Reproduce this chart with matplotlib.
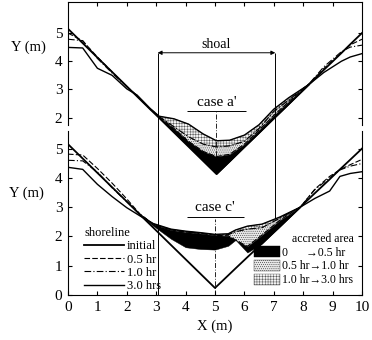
import numpy as np
import matplotlib
matplotlib.use("Agg")
import matplotlib.pyplot as plt

plt.rcParams['font.family'] = ['Liberation Serif', 'DejaVu Serif']
plt.rcParams['hatch.linewidth'] = 0.35

# case a' (upper panel) shorelines
xa = np.array([0, 0.5, 1.0, 1.5, 2.0, 2.35, 2.8, 3.1, 3.6, 4.1, 4.6, 5.05,
               5.5, 6.0, 6.5, 7.0, 7.5, 8.2, 8.7, 9.3, 9.6, 10])
a_init = [5.15, 4.64, 4.13, 3.62, 3.11, 2.75, 2.29, 1.99, 1.48, 0.97, 0.46, 0.0,
          0.45, 0.96, 1.46, 1.97, 2.47, 3.18, 3.69, 4.29, 4.60, 5.0]
a_05 = [5.0, 4.72, 4.15, 3.62, 3.10, 2.76, 2.30, 2.02, 1.62, 1.16, 0.80, 0.62,
        0.70, 1.06, 1.56, 2.08, 2.56, 3.20, 3.74, 4.30, 4.58, 4.78]
a_10 = [4.78, 4.73, 4.10, 3.58, 3.10, 2.78, 2.31, 2.04, 1.68, 1.32, 1.06, 0.96,
        1.00, 1.16, 1.62, 2.22, 2.62, 3.20, 3.80, 4.34, 4.50, 4.57]
a_30 = [4.49, 4.47, 3.75, 3.50, 3.02, 2.80, 2.32, 2.05, 1.96, 1.77, 1.42, 1.18,
        1.20, 1.38, 1.75, 2.30, 2.70, 3.18, 3.60, 4.00, 4.15, 4.27]

# case c' (lower panel)
xc = np.array([0, 0.5, 1.0, 1.5, 2.0, 2.45, 2.9, 3.5, 4.0, 4.5, 5.0, 5.45,
               5.7, 6.1, 6.6, 7.2, 7.9, 8.4, 8.9, 9.25, 9.6, 10])
c_init = [5.15, 4.66, 4.17, 3.68, 3.19, 2.74, 2.30, 1.71, 1.22, 0.73, 0.24, 0.67,
          0.91, 1.29, 1.76, 2.33, 3.00, 3.48, 3.95, 4.29, 4.62, 5.0]
c_05 = [4.81, 4.78, 4.32, 3.82, 3.28, 2.76, 2.42, 2.22, 2.15, 2.10, 2.04, 2.02,
        1.88, 1.66, 2.05, 2.55, 3.00, 3.62, 4.05, 4.28, 4.45, 4.63]
c_10 = [4.60, 4.58, 4.20, 3.66, 3.18, 2.76, 2.42, 2.23, 2.16, 2.11, 2.05, 2.06,
        2.16, 2.25, 2.30, 2.62, 3.00, 3.60, 4.00, 4.27, 4.40, 4.49]
c_30 = [4.36, 4.29, 3.78, 3.36, 2.98, 2.70, 2.44, 2.25, 2.18, 2.13, 2.07, 2.09,
        2.22, 2.35, 2.42, 2.66, 3.00, 3.30, 3.55, 4.05, 4.15, 4.21]
# lower edge of the 0-0.5 hr deposit (bar) in case c'
c_bar = [5.15, 4.66, 4.17, 3.68, 3.19, 2.74, 2.36, 1.92, 1.63, 1.57, 1.55, 1.68,
         1.88, 1.45, 1.76, 2.33, 3.00, 3.48, 3.95, 4.29, 4.62, 5.0]

shoal_x = [3.05, 7.05]
center_x = 5.05
line_labels = ['initial', '0.5 hr', '1.0 hr', '3.0 hrs']
area_labels = ['0      \u21920.5 hr', '0.5 hr\u21921.0 hr', '1.0 hr\u21923.0 hrs']

fig = plt.figure(figsize=(3.72, 3.40), dpi=100)
ax_lo = fig.add_axes([68/372, 45/340, 294/372, 164/340])
ax_up = fig.add_axes([68/372, 157.5/340, 294/372, 180.5/340], zorder=3)
ax_up.patch.set_visible(False)

styles = [dict(lw=1.3, ls='-'), dict(lw=0.8, ls=(0, (5, 2))),
          dict(lw=0.8, ls=(0, (6, 2, 1, 2))), dict(lw=1.0, ls='-')]


def draw_case(ax, x, curves, lo, rng):
    m = (x >= rng[0]) & (x <= rng[1])
    f1 = ax.fill_between(x, lo, curves[1], where=m, facecolor='black',
                         edgecolor='black', lw=0.3, interpolate=True)
    f2 = ax.fill_between(x, curves[1], curves[2], where=m, facecolor='#e8e8e8',
                         hatch='........', edgecolor='#333333', lw=0.3, interpolate=True)
    f3 = ax.fill_between(x, curves[2], curves[3], where=m, facecolor='#f4f4f4',
                         hatch='++++++', edgecolor='#555555', lw=0.3, interpolate=True)
    lines = []
    for y, st, lab in zip(curves, styles, line_labels):
        ln, = ax.plot(x, y, color='black', label=lab, **st)
        lines.append(ln)
    return lines, [f1, f2, f3]


draw_case(ax_up, xa, [a_init, a_05, a_10, a_30], a_init, (2.8, 8.2))
lines, areas = draw_case(ax_lo, xc, [c_init, c_05, c_10, c_30], c_bar, (2.45, 7.9))

# upper axes styling
ax_up.set_xlim(0, 10)
ax_up.set_ylim(-0.3, 6.1)
ax_up.spines['bottom'].set_visible(False)
ax_up.spines['left'].set_bounds(1.75, 6.1)
ax_up.spines['right'].set_bounds(1.75, 6.1)
ax_up.set_yticks([2, 3, 4, 5])
ax_up.xaxis.tick_top()
ax_up.set_xticks(range(1, 10))
ax_up.tick_params(axis='x', direction='in', length=3, labeltop=False)
ax_up.tick_params(axis='y', direction='in', length=3, right=True, labelsize=11, pad=4)
ax_up.set_ylabel('Y (m)', rotation=0, fontsize=10.5, va='center')
ax_up.yaxis.set_label_coords(-0.135, 0.75)

# lower axes styling
ax_lo.set_xlim(0, 10)
ax_lo.set_ylim(0, 5.6)
ax_lo.spines['top'].set_visible(False)
ax_lo.set_yticks(range(0, 6))
ax_lo.set_xticks(range(0, 11))
ax_lo.tick_params(direction='in', length=3, right=True, labelsize=11, pad=4)
ax_lo.set_ylabel('Y (m)', rotation=0, fontsize=10.5, va='center')
ax_lo.yaxis.set_label_coords(-0.14, 0.62)
ax_lo.set_xlabel('X (m)', fontsize=10.5, labelpad=4)

# shoal markers
ax_up.vlines(shoal_x, -0.3, 4.3, color='black', lw=0.7)
ax_lo.vlines(shoal_x[0], 0, 5.6, color='black', lw=0.7)
ax_lo.vlines(shoal_x[1], 2.6, 5.6, color='black', lw=0.7)
ax_up.annotate('', xy=(shoal_x[0], 4.3), xytext=(shoal_x[1], 4.3),
               arrowprops=dict(arrowstyle='<|-|>', lw=0.7, color='black',
                               mutation_scale=6, shrinkA=0, shrinkB=0))
ax_up.text(center_x, 4.38, 'shoal', ha='center', va='bottom', fontsize=10)

# case titles with underline and centre line
ax_up.text(center_x, 2.32, "case a'", ha='center', va='bottom', fontsize=11)
ax_up.hlines(2.25, 4.05, 6.05, color='black', lw=0.7)
ax_up.vlines(center_x, 0, 2.2, color='black', lw=0.6, linestyles=(0, (6, 2, 1, 2)))
ax_lo.text(center_x - 0.05, 2.75, "case c'", ha='center', va='bottom', fontsize=11)
ax_lo.hlines(2.67, 4.05, 6.0, color='black', lw=0.7)
ax_lo.vlines(center_x - 0.05, 0, 2.6, color='black', lw=0.6, linestyles=(0, (6, 2, 1, 2)))

leg1 = ax_lo.legend(handles=lines, title='shoreline', loc='upper left',
                    bbox_to_anchor=(0.03, 0.46), frameon=False, fontsize=9,
                    title_fontsize=9, handlelength=3.2, handletextpad=0.2,
                    labelspacing=0.1, borderpad=0.1, alignment='left')
ax_lo.add_artist(leg1)
ax_lo.legend(handles=areas, labels=area_labels, title='accreted area',
             loc='lower right', bbox_to_anchor=(0.995, 0.01), frameon=False,
             fontsize=8.5, title_fontsize=8.5, handlelength=2.2, handleheight=1.1,
             handletextpad=0.2, labelspacing=0.1, borderpad=0.1,
             alignment='right')

fig.savefig('out.png', dpi=100)
